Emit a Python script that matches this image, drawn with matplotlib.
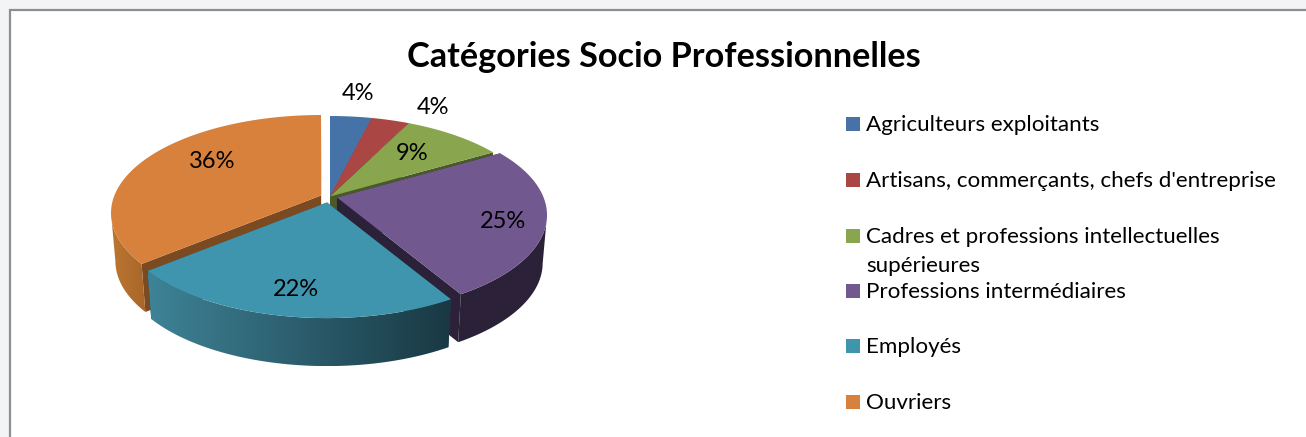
import numpy as np
import matplotlib
matplotlib.use("Agg")
import matplotlib.pyplot as plt
from matplotlib.colors import to_rgb
from matplotlib.patches import Polygon, Rectangle

# --- data ---
categories = ["Agriculteurs exploitants", "Artisans, commerçants, chefs d'entreprise",
              "Cadres et professions intellectuelles\nsupérieures", "Professions intermédiaires",
              "Employés", "Ouvriers"]
values = [3.8, 3.5, 9.2, 25.0, 22.4, 36.0]
title = "Catégories Socio Professionnelles"

# --- style ---
top_colors = ["#4572A7", "#AA4643", "#89A54E", "#71588F", "#4095AE", "#D8813C"]
face_colors = ["#2B4568", "#6A2B29", "#4A5A26", "#2B2138", "#1F4A58", "#7B4A20"]
wall_left = ["#2B4568", "#6A2B29", "#4A5A26", "#2B2138", "#3E8397", "#BC7631"]
wall_right = ["#2B4568", "#6A2B29", "#4A5A26", "#2B2138", "#193843", "#A8662A"]
offsets = [(0, 0), (0, 0), (0, 0), (7, 1), (-3, 6), (-9, -1)]
label_pos = [(358, 93), (433, 107), (412, 153), (503, 222), (296, 289), (212, 162)]
legend_y = [125, 181, 237, 292, 347, 403]
CX, CY, A, B, P, DEPTH, BOTTOM_SCALE = 330, 196.5, 206.6, 94.9, 0.179, 48, 0.98
plt.rcParams["font.family"] = ["Lato", "DejaVu Sans"]

fig = plt.figure(figsize=(13.06, 4.37), dpi=100, facecolor="#F3F4F6")
ax = fig.add_axes([0, 0, 1, 1])
ax.set_xlim(0, 1306)
ax.set_ylim(437, 0)
ax.autoscale(False)
ax.axis("off")
ax.add_patch(Rectangle((10, 10), 1300, 430, facecolor="white", edgecolor="#8E8E8E", lw=1.6, zorder=0))


def project(frac, dx=0, dy=0):
    t = 2 * np.pi * np.asarray(frac, dtype=float)
    u, v = np.sin(t), np.cos(t)
    w = 1 + P * v
    return CX + A * u / w + dx, CY - B * v / w + dy


def lower(x, y):
    return CX + (np.asarray(x) - CX) * BOTTOM_SCALE, np.asarray(y) + DEPTH


fractions = np.array(values) / sum(values)
edges = np.concatenate([[0], np.cumsum(fractions)])
order = [0, 1, 2, 3, 5, 4]  # painter's order, back to front

# the part of the rim that faces the viewer lies between the ellipse's extremes
circle = np.linspace(0, 1, 2001)
rim_x, _ = project(circle)
front_start, front_end = circle[np.argmax(rim_x)], circle[np.argmin(rim_x)]

z = 1
for i in order:
    dx, dy = offsets[i]
    fs = np.linspace(edges[i], edges[i + 1], 200)
    x, y = project(fs, dx, dy)
    ax0, ay0 = CX + dx, CY + dy
    # radial cut faces
    for xe, ye in ((x[0], y[0]), (x[-1], y[-1])):
        xb, yb = lower([ax0, xe], [ay0, ye])
        ax.fill([ax0, xe, xb[1], xb[0]], [ay0, ye, yb[1], yb[0]],
                color=face_colors[i], lw=0, zorder=z)
        z += 1
    # outer wall, shaded left to right
    front = (fs >= front_start) & (fs <= front_end)
    if front.sum() >= 2:
        xf, yf = x[front], y[front]
        xl, yl = lower(xf, yf)
        xs = np.r_[xf, xl[::-1]]
        ys = np.r_[yf, yl[::-1]]
        poly = Polygon(np.c_[xs, ys], closed=True, facecolor="none", edgecolor="none")
        ax.add_patch(poly)
        c1, c2 = np.array(to_rgb(wall_left[i])), np.array(to_rgb(wall_right[i]))
        grad = np.linspace(0, 1, 256)[None, :, None] * (c2 - c1) + c1
        im = ax.imshow(grad, extent=(xs.min(), xs.max(), ys.max(), ys.min()),
                       aspect="auto", interpolation="bilinear", zorder=z)
        im.set_clip_path(poly)
        z += 1
    # top surface
    ax.fill(np.r_[ax0, x], np.r_[ay0, y], color=top_colors[i], lw=0, zorder=z)
    z += 1

# data labels
for val, (lx, ly) in zip(values, label_pos):
    ax.text(lx, ly, f"{int(val + 0.5)}%", fontsize=17, color="black", ha="center", va="center", zorder=z)

ax.text(664, 57, title, fontsize=24.7, fontweight="bold", color="black", ha="center", va="center", zorder=z)

# legend
for cat, col, ly in zip(categories, top_colors, legend_y):
    ax.add_patch(Rectangle((846, ly - 8), 14, 14, facecolor=col, edgecolor="none", zorder=z))
    for n, line in enumerate(cat.split("\n")):
        ax.text(866, ly + n * 29, line, fontsize=16.1, color="black", ha="left", va="center", zorder=z)

ax.set_xlim(0, 1306)
ax.set_ylim(437, 0)
fig.savefig("out.png", dpi=100, facecolor=fig.get_facecolor())
